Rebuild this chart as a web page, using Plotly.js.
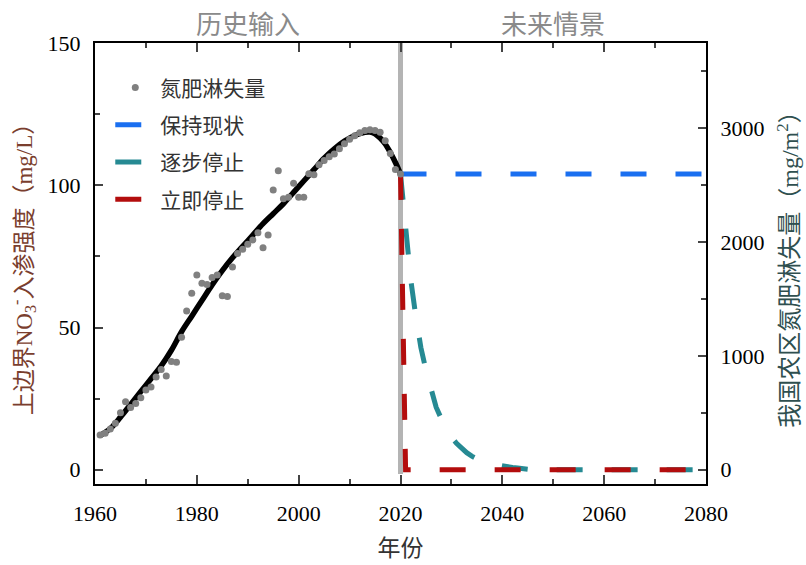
<!DOCTYPE html>
<html><head><meta charset="utf-8">
<script src="https://cdn.plot.ly/plotly-3.0.1.min.js"></script>
<style>html,body{margin:0;padding:0;background:#fff}#chart{width:806px;height:565px}</style>
</head><body><div id="chart"></div>
<script>
// 氮肥淋失量 (mg/m2) – right axis
const dotYears = [1961,1962,1963,1964,1965,1966,1967,1968,1969,1970,1971,1972,1973,1974,1975,1976,1977,1978,1979,1980,
  1981,1982,1983,1984,1985,1986,1987,1988,1989,1990,1991,1992,1993,1994,1995,1996,1997,1998,1999,2000,
  2001,2002,2003,2004,2005,2006,2007,2008,2009,2010,2011,2012,2013,2014,2015,2016,2017,2018,2019,2020];
const dotVals = [305,320,358,408,500,598,548,582,632,700,728,815,880,825,952,945,1165,1395,1550,1712,
  1640,1628,1690,1712,1530,1522,1782,1900,1938,1982,2020,2082,1950,2062,2458,2628,2382,2395,2518,2395,
  2395,2602,2592,2680,2718,2750,2775,2820,2865,2905,2935,2962,2982,2988,2982,2965,2892,2780,2638,2600];
// 上边界NO3入渗强度 (mg/L) – left axis, smooth curve
const curveYears = [1961,1963,1965,1967,1969,1971,1973,1975,1977,1979,1981,1983,1985,1987,1989,1991,1993,1995,1997,1999,
  2001,2003,2005,2007,2009,2011,2013,2014,2015,2016,2017,2018,2019,2020];
const curveVals = [12,14.5,18.5,23,27.5,32,36.5,42,48.5,54,59.5,65,70,74.5,78.5,82.5,86.5,90,93.5,97.5,
  101.5,105.5,109.5,112.8,115.5,117.5,118.6,118.7,118.1,116.6,114.5,111.5,108,104];
// future scenarios (mg/L)
const keepYears = [2020,2080];
const keepVals = [104,104];
const gradYears = [2020,2021,2022,2023,2024,2025,2026,2027,2028,2029,2030,2031,2032,2033,2034,2035,2036,2037,2038,2039,
  2040,2041,2042,2043,2044,2045,2046,2080];
const gradVals = [104,84,67,54,43,35,28,22,18,14.5,11.5,9.3,7.5,6,4.8,3.8,3,2.4,2,1.6,
  1.3,1.0,0.8,0.6,0.4,0.2,0,0];
const stopYears = [2020,2021,2080];
const stopVals = [104,0,0];
const names = ['氮肥淋失量','保持现状','逐步停止','立即停止'];
const xTicks = [1960,1980,2000,2020,2040,2060,2080];
const sectionLabels = ['历史输入','未来情景'];
const sectionCenters = [1990,2050];

const serif = "'Liberation Serif', 'Times New Roman', 'Noto Sans CJK SC', serif";
const cjk = "'Noto Sans CJK SC', sans-serif";
const dash = '26px,29px';

const traces = [
  {x: dotYears, y: dotVals, yaxis: 'y2', mode: 'markers', name: names[0], legendgroup: 'a',
   marker: {size: 7, color: '#808080'}},
  {x: curveYears, y: curveVals, mode: 'lines', showlegend: false,
   line: {color: '#000000', width: 5.5, shape: 'spline'}},
  {x: keepYears, y: keepVals, mode: 'lines', name: names[1], legendgroup: 'b',
   line: {color: '#1a6ff0', width: 5, dash: dash}},
  {x: gradYears, y: gradVals, mode: 'lines', name: names[2], legendgroup: 'c',
   line: {color: '#268a93', width: 5, dash: dash}},
  {x: stopYears, y: stopVals, mode: 'lines', name: names[3], legendgroup: 'd',
   line: {color: '#b30d0d', width: 5, dash: dash}}
];

const layout = {
  width: 806, height: 565,
  margin: {l: 95, r: 100, t: 43, b: 81},
  paper_bgcolor: '#fff', plot_bgcolor: '#fff',
  showlegend: true,
  legend: {x: 0.025, y: 0.945, xanchor: 'left', yanchor: 'top', bgcolor: 'rgba(0,0,0,0)',
    font: {family: cjk, size: 21, color: '#333'}, tracegroupgap: 7, itemwidth: 40},
  xaxis: {range: [1960, 2080], tickvals: xTicks, ticks: 'inside', ticklen: 9, tickwidth: 2,
    showline: true, linewidth: 2, linecolor: '#000', mirror: 'ticks', showgrid: false, zeroline: false,
    minor: {dtick: 10, tick0: 1960, ticks: 'inside', ticklen: 5, tickwidth: 2},
    tickfont: {family: serif, size: 22, color: '#000'}, ticklabelstandoff: 9,
    title: {text: '年份', font: {family: cjk, size: 23, color: '#333'}, standoff: 14}},
  yaxis: {range: [-5, 150], dtick: 50, tick0: 0, ticks: 'inside', ticklen: 8, tickwidth: 2,
    showline: true, linewidth: 2, linecolor: '#000', showgrid: false, zeroline: false,
    minor: {dtick: 25, tick0: 0, ticks: 'inside', ticklen: 5, tickwidth: 2},
    tickfont: {family: serif, size: 22, color: '#000'}, ticklabelstandoff: 8,
    title: {text: '上边界NO<sub>3</sub><sup>-</sup>入渗强度（mg/L）', font: {family: serif, size: 23, color: '#7a3e2e'}, standoff: 9}},
  yaxis2: {range: [-125, 3750], dtick: 1000, tick0: 0, overlaying: 'y', side: 'right', anchor: 'x',
    ticks: 'inside', ticklen: 8, tickwidth: 2,
    showline: true, linewidth: 2, linecolor: '#000', showgrid: false, zeroline: false,
    minor: {dtick: 500, tick0: 0, ticks: 'inside', ticklen: 5, tickwidth: 2},
    tickfont: {family: serif, size: 22, color: '#000'}, ticklabelstandoff: 8,
    title: {text: '我国农区氮肥淋失量（mg/m<sup>2</sup>）', font: {family: serif, size: 24, color: '#2f4f4f'}, standoff: 18}},
  shapes: [{type: 'line', xref: 'x', yref: 'y', x0: 2020, x1: 2020, y0: -1.5, y1: 150,
    line: {color: '#b4b4b4', width: 5}, layer: 'below'}],
  annotations: sectionLabels.map((t, i) => ({text: t, xref: 'x', yref: 'paper', x: sectionCenters[i], y: 1.0,
    xanchor: 'center', yanchor: 'bottom', showarrow: false, font: {family: cjk, size: 26, color: '#8a8a8a'}}))
};

Plotly.newPlot('chart', traces, layout, {displayModeBar: false});
</script>
</body></html>
